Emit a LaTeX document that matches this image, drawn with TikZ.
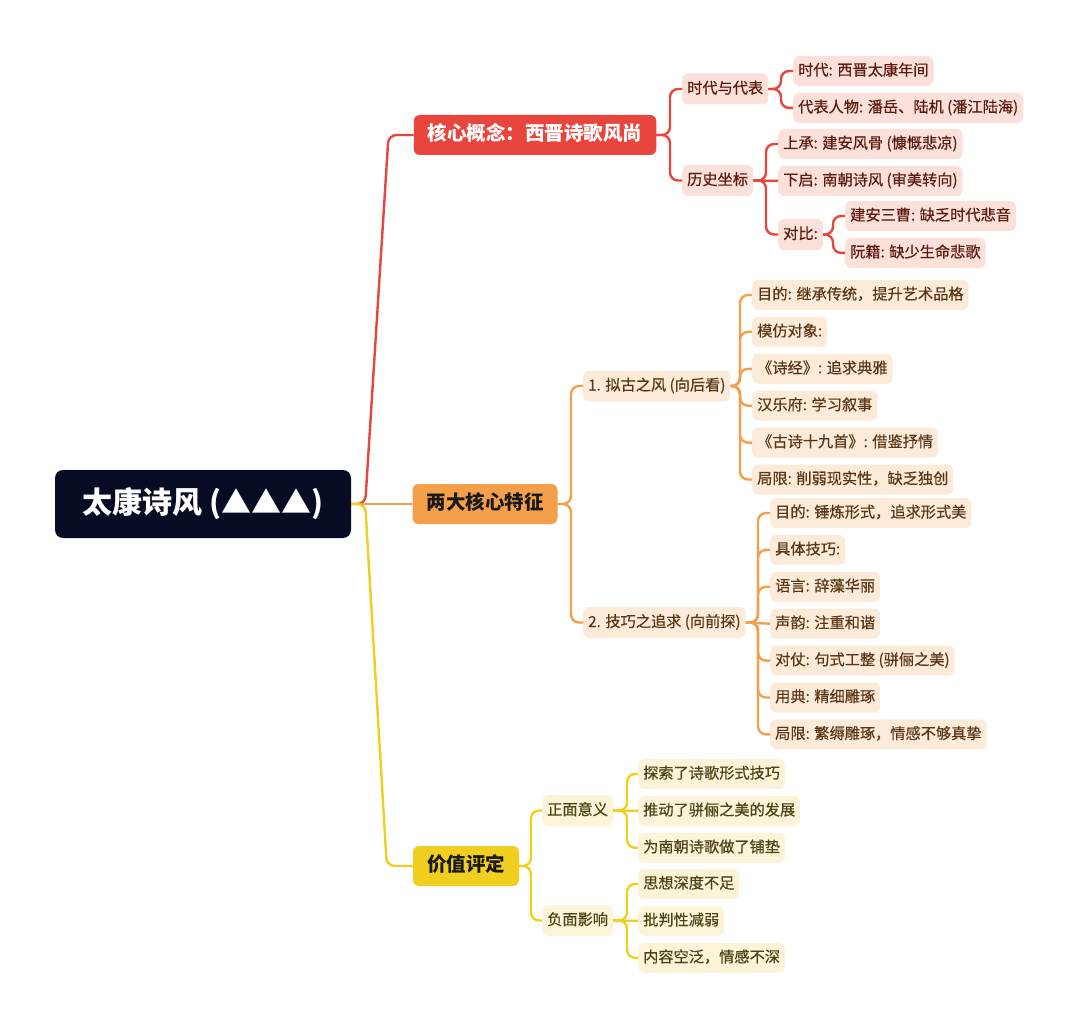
\documentclass[tikz,border=0pt]{standalone}
\usepackage{fontspec}
\setmainfont{Noto Sans CJK SC}
\newfontfamily\leaffont{Noto Sans CJK SC}[FakeBold=0.5]
\usepackage{xcolor}
\usetikzlibrary{positioning}
\definecolor{rootbg}{HTML}{070B24}
\definecolor{redmain}{HTML}{E8453C}
\definecolor{redpale}{HTML}{FBE1D9}
\definecolor{redink}{HTML}{5C1A10}
\definecolor{orgmain}{HTML}{F4A04A}
\definecolor{orgpale}{HTML}{FDEBD9}
\definecolor{orgink}{HTML}{5A3616}
\definecolor{ylwmain}{HTML}{F1CF20}
\definecolor{ylwpale}{HTML}{FCF4D9}
\definecolor{ylwink}{HTML}{4D4314}
\tikzset{
  mmroot/.style={rounded corners=8pt,fill=rootbg,text=white,minimum width=296pt,minimum height=68pt,
    font=\fontsize{30}{33}\selectfont\bfseries},
  mmtopic/.style={rounded corners=6pt,minimum height=40pt,inner xsep=14pt,inner ysep=0pt,
    text height=15pt,text depth=4pt,font=\fontsize{19.5}{22}\selectfont\bfseries},
  mmleaf/.style={rounded corners=6pt,anchor=west,minimum height=30pt,inner xsep=5pt,inner ysep=0pt,
    text height=12pt,text depth=3pt,font=\leaffont\fontsize{15.2}{18}\selectfont},
  redleaf/.style={mmleaf,fill=redpale,text=redink},
  orgleaf/.style={mmleaf,fill=orgpale,text=orgink},
  ylwleaf/.style={mmleaf,fill=ylwpale,text=ylwink},
  mmlink/.style={line width=2.4pt,rounded corners=8pt},
  redlink/.style={mmlink,draw=redmain},
  orglink/.style={mmlink,draw=orgmain},
  ylwlink/.style={mmlink,draw=ylwmain},
  nextleaf/.style={below right=6.5pt and 0pt of #1.south west}
}

\begin{document}
\begin{tikzpicture}[x=1pt,y=-1pt]
  \useasboundingbox (0,0) rectangle (1080,1027);
  \node[mmroot] (root) at (203,504) {太康诗风 (▲▲▲)};

  \node[mmtopic,fill=redmain,text=white] (core) at (535,135) {核心概念：西晋诗歌风尚};
  \node[redleaf,minimum height=31pt] (era) at (682,89) {时代与代表};
  \node[redleaf,minimum height=31pt] (hist) at (682,180.5) {历史坐标};
  \node[redleaf] (eraA) at (793,71) {时代: 西晋太康年间};
  \node[redleaf,nextleaf=eraA] (eraB) {代表人物: 潘岳、陆机 (潘江陆海)};
  \node[redleaf] (histA) at (778,144) {上承: 建安风骨 (慷慨悲凉)};
  \node[redleaf,nextleaf=histA] (histB) {下启: 南朝诗风 (审美转向)};
  \node[redleaf,minimum height=31pt] (cmp) at (778,234.5) {对比:};
  \node[redleaf] (cmpA) at (845,216) {建安三曹: 缺乏时代悲音};
  \node[redleaf,nextleaf=cmpA] (cmpB) {阮籍: 缺少生命悲歌};

  \node[mmtopic,fill=orgmain,text=black!90] (feat) at (485,504) {两大核心特征};
  \node[orgleaf,minimum height=31pt] (ngu) at (583,386) {1. 拟古之风 (向后看)};
  \node[orgleaf,minimum height=31pt] (jiq) at (583,622.5) {2. 技巧之追求 (向前探)};
  \node[orgleaf] (nguA) at (752,295) {目的: 继承传统，提升艺术品格};
  \node[orgleaf,nextleaf=nguA] (nguB) {模仿对象:};
  \node[orgleaf,nextleaf=nguB] (nguC) {《诗经》: 追求典雅};
  \node[orgleaf,nextleaf=nguC] (nguD) {汉乐府: 学习叙事};
  \node[orgleaf,nextleaf=nguD] (nguE) {《古诗十九首》: 借鉴抒情};
  \node[orgleaf,nextleaf=nguE] (nguF) {局限: 削弱现实性，缺乏独创};
  \node[orgleaf] (jiqA) at (770,513) {目的: 锤炼形式，追求形式美};
  \node[orgleaf,nextleaf=jiqA] (jiqB) {具体技巧:};
  \node[orgleaf,nextleaf=jiqB] (jiqC) {语言: 辞藻华丽};
  \node[orgleaf,nextleaf=jiqC] (jiqD) {声韵: 注重和谐};
  \node[orgleaf,nextleaf=jiqD] (jiqE) {对仗: 句式工整 (骈俪之美)};
  \node[orgleaf,nextleaf=jiqE] (jiqF) {用典: 精细雕琢};
  \node[orgleaf,nextleaf=jiqF] (jiqG) {局限: 繁缛雕琢，情感不够真挚};

  \node[mmtopic,fill=ylwmain,text=black!90] (value) at (466,866) {价值评定};
  \node[ylwleaf,minimum height=31pt] (pos) at (542,810.5) {正面意义};
  \node[ylwleaf,minimum height=31pt] (neg) at (542,920.5) {负面影响};
  \node[ylwleaf] (posA) at (638,774) {探索了诗歌形式技巧};
  \node[ylwleaf,nextleaf=posA] (posB) {推动了骈俪之美的发展};
  \node[ylwleaf,nextleaf=posB] (posC) {为南朝诗歌做了铺垫};
  \node[ylwleaf] (negA) at (638,884) {思想深度不足};
  \node[ylwleaf,nextleaf=negA] (negB) {批判性减弱};
  \node[ylwleaf,nextleaf=negB] (negC) {内容空泛，情感不深};

  \draw[redlink] (root.east) -- ++(14,0) -- ([xshift=-25pt]core.west) -- (core.west);
  \draw[orglink] (root.east) -- (feat.west);
  \draw[ylwlink] (root.east) -- ++(14,0) -- ([xshift=-26pt]value.west) -- (value.west);

  \foreach \c in {era,hist}
    \draw[redlink] (core.east) -| ([xshift=-12pt]\c.west) -- (\c.west);
  \foreach \c in {eraA,eraB}
    \draw[redlink] (era.east) -| ([xshift=-12pt]\c.west) -- (\c.west);
  \foreach \c in {histA,cmp}
    \draw[redlink] (hist.east) -| ([xshift=-12pt]\c.west) -- (\c.west);
  \draw[redlink] (hist.east) -- (histB.west);
  \foreach \c in {cmpA,cmpB}
    \draw[redlink] (cmp.east) -| ([xshift=-12pt]\c.west) -- (\c.west);

  \foreach \c in {ngu,jiq}
    \draw[orglink] (feat.east) -| ([xshift=-12pt]\c.west) -- (\c.west);
  \foreach \c in {nguA,nguB,nguC,nguD,nguE,nguF}
    \draw[orglink] (ngu.east) -| ([xshift=-12pt]\c.west) -- (\c.west);
  \foreach \c in {jiqA,jiqB,jiqC,jiqE,jiqF,jiqG}
    \draw[orglink] (jiq.east) -| ([xshift=-12pt]\c.west) -- (\c.west);
  \draw[orglink] (jiq.east) -- (jiqD.west);

  \foreach \c in {pos,neg}
    \draw[ylwlink] (value.east) -| ([xshift=-11pt]\c.west) -- (\c.west);
  \foreach \c in {posA,posC}
    \draw[ylwlink] (pos.east) -| ([xshift=-11pt]\c.west) -- (\c.west);
  \draw[ylwlink] (pos.east) -- (posB.west);
  \foreach \c in {negA,negC}
    \draw[ylwlink] (neg.east) -| ([xshift=-11pt]\c.west) -- (\c.west);
  \draw[ylwlink] (neg.east) -- (negB.west);
\end{tikzpicture}
\end{document}
